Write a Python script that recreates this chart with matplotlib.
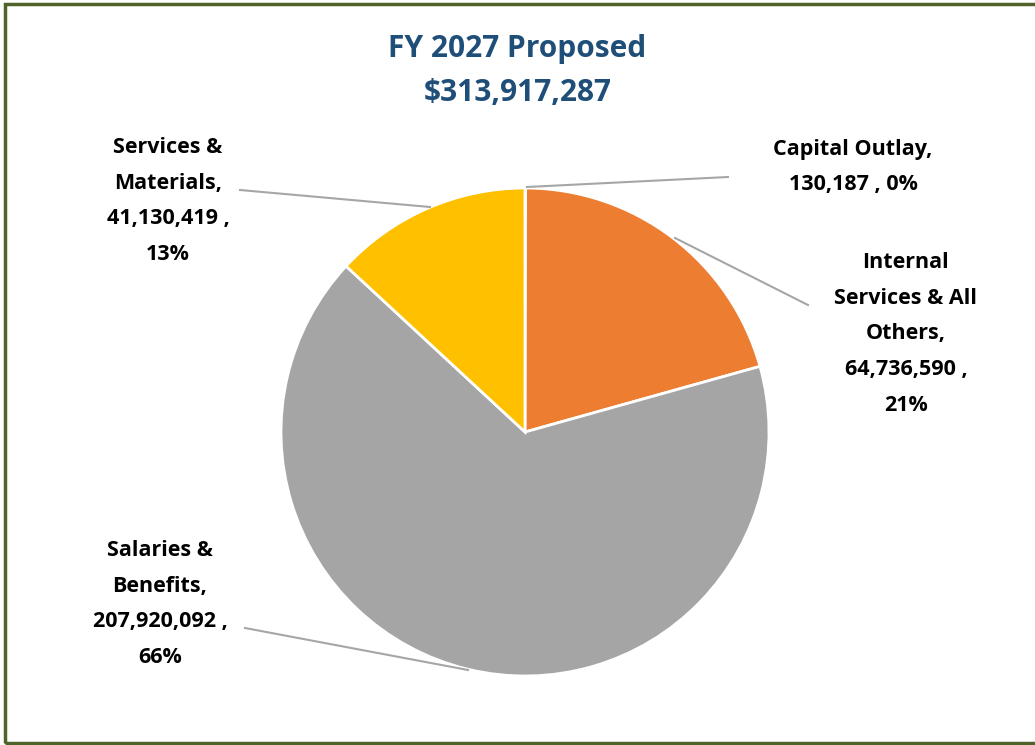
import matplotlib.pyplot as plt
from matplotlib.patches import Rectangle

# data
categories = ['Capital Outlay,', 'Internal\nServices & All\nOthers,',
              'Salaries &\nBenefits,', 'Services &\nMaterials,']
values = [130187, 64736590, 207920092, 41130419]
colors = ['#4472C4', '#ED7D31', '#A5A5A5', '#FFC000']
title = 'FY 2027 Proposed\n$313,917,287'

W, H = 1035, 745
fig = plt.figure(figsize=(W / 100, H / 100), dpi=100)
ax = fig.add_axes([0, 0, 1, 1])

# outer frame
fig.patches.append(Rectangle((5 / W, 2 / H), 1.2, (H - 6) / H, transform=fig.transFigure,
                             fill=False, edgecolor='#4F6228', linewidth=2.5))

cx, cy, r = 525, H - 432, 244
ax.pie(values, colors=colors, startangle=90, counterclock=False,
       center=(cx, cy), radius=r, frame=True,
       wedgeprops=dict(edgecolor='white', linewidth=2))
ax.set_xlim(0, W)
ax.set_ylim(0, H)
ax.set_aspect('equal')
ax.axis('off')

font = ['Open Sans', 'DejaVu Sans']
ax.text(W / 2, H - 71, title, ha='center', va='center', fontsize=21.5,
        fontweight='bold', color='#1F4E79', family=font, linespacing=1.6)

total = sum(values)
seps = [' , ', ' ,\n', ' ,\n', ' ,\n']
label_pos = [(853, 167), (906, 334), (160, 604), (168, 201)]
leaders = [[(527, 187), (728, 177)], [(675, 238), (808, 305)],
           [(468, 670), (245, 628)], [(430, 207), (240, 190)]]

for name, v, sep, (lx, ly), ln in zip(categories, values, seps, label_pos, leaders):
    pct = round(v / total * 100)
    txt = f'{name}\n{v:,}{sep}{pct}%'
    ax.text(lx, H - ly, txt, ha='center', va='center', fontsize=15.5,
            fontweight='bold', color='black', family=font, linespacing=1.92)
    ax.plot([p[0] for p in ln], [H - p[1] for p in ln], color='#A6A6A6', lw=1.5)

fig.savefig('out.png', dpi=100)
